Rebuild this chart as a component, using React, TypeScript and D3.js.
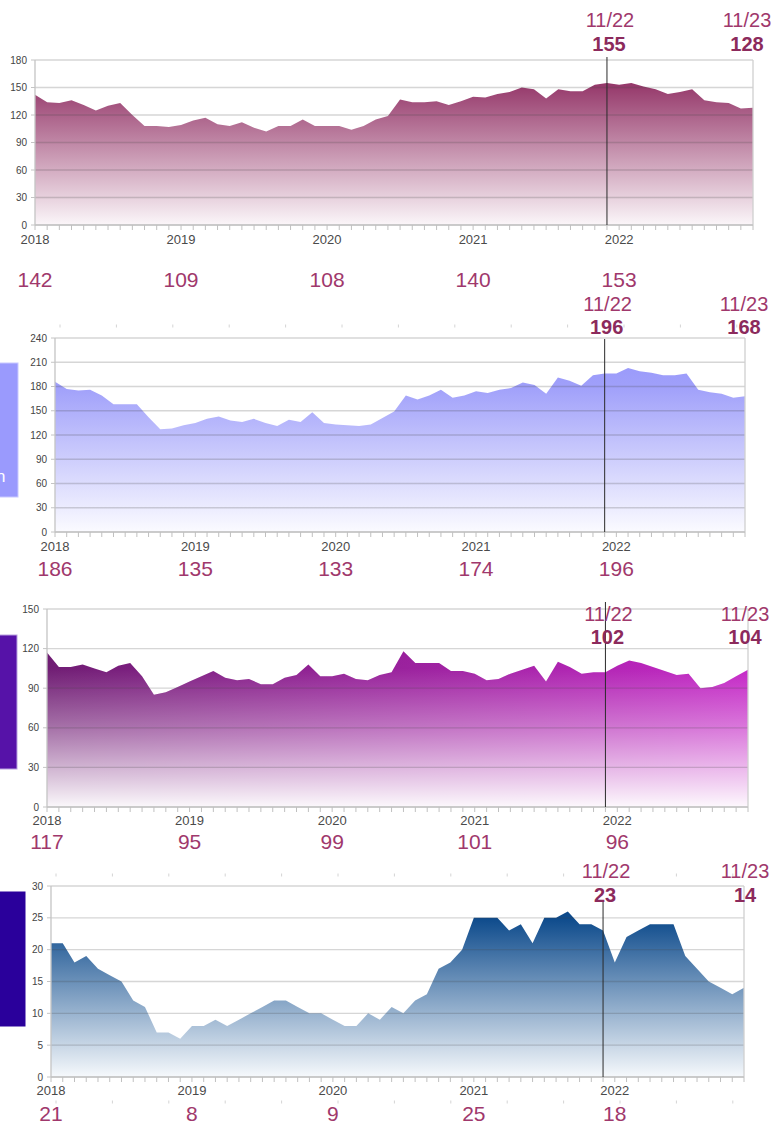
import React from 'react';
import * as d3 from 'd3';

// ---- categories ----
const MONTHS: Date[] = d3.timeMonth.range(new Date(2018, 11, 1), new Date(2023, 11, 1)); // 60 months
const YEAR_LABELS = ['2018', '2019', '2020', '2021', '2022'];
const YEAR_TICK_INDEX = [0, 12, 24, 36, 48];
const MARKER_LABELS = ['11/22', '11/23'];
const MARKER_INDEX = [47, 59];

// ---- series values ----
const seriesA = [142,134,133,136,131,125,130,133,120,108,108,107,109,114,117,110,108,112,106,102,108,108,115,108,108,108,104,108,115,119,137,134,134,135,131,135,140,139,143,145,150,148,138,148,146,146,153,155,153,155,151,148,143,145,148,136,134,133,127,128];
const seriesB = [186,177,175,176,169,158,158,158,142,127,128,132,135,140,143,138,136,140,135,131,139,136,148,135,133,132,131,133,141,149,169,164,169,176,166,169,174,172,176,178,185,182,171,191,187,181,194,196,196,203,199,197,194,194,196,176,173,171,166,168];
const seriesC = [117,106,106,108,105,102,107,109,99,85,87,91,95,99,103,98,96,97,93,93,98,100,108,99,99,101,97,96,100,102,118,109,109,109,103,103,101,96,97,101,104,107,95,110,106,101,102,102,107,111,109,106,103,100,101,90,91,94,99,104];
const seriesD = [21,21,18,19,17,16,15,12,11,7,7,6,8,8,9,8,9,10,11,12,12,11,10,10,9,8,8,10,9,11,10,12,13,17,18,20,25,25,25,23,24,21,25,25,26,24,24,23,18,22,23,24,24,24,19,17,15,14,13,14];

// ---- yearly values shown under each chart ----
const annualA = [142, 109, 108, 140, 153];
const annualB = [186, 135, 133, 174, 196];
const annualC = [117, 95, 99, 101, 96];
const annualD = [21, 8, 9, 25, 18];

type Panel = {
  id: string;
  series: number[];
  annual: number[];
  yMax: number;
  yStep: number;
  left: number; right: number; top: number; bottom: number;
  lineTop: number;
  lab1Y: number; lab2Y: number; yearY: number; annualY: number;
  endLabelX: number;
  box?: { x: number; y: number; w: number; h: number; color: string; border: string; text?: string };
  dots?: number[];
  kind: 'a' | 'b' | 'c' | 'd';
};

const panels: Panel[] = [
  { id: 'a', series: seriesA, annual: annualA, yMax: 180, yStep: 30, left: 35, right: 753, top: 60, bottom: 225, lineTop: 57, lab1Y: 27, lab2Y: 51, yearY: 244, annualY: 287, endLabelX: 747, kind: 'a' },
  { id: 'b', series: seriesB, annual: annualB, yMax: 240, yStep: 30, left: 55, right: 745, top: 338, bottom: 532, lineTop: 339, lab1Y: 311, lab2Y: 334, yearY: 551, annualY: 576, endLabelX: 744, kind: 'b',
    box: { x: -2, y: 363, w: 20, h: 134, color: '#9a9afd', border: '#c8c8ff', text: 'n' }, dots: [326] },
  { id: 'c', series: seriesC, annual: annualC, yMax: 150, yStep: 30, left: 47, right: 748, top: 609, bottom: 807, lineTop: 602, lab1Y: 621, lab2Y: 644, yearY: 825, annualY: 849, endLabelX: 745, kind: 'c',
    box: { x: -2, y: 635, w: 19, h: 134, color: '#5612a8', border: '#b9a2e0' } },
  { id: 'd', series: seriesD, annual: annualD, yMax: 30, yStep: 5, left: 51, right: 744, top: 886, bottom: 1077, lineTop: 902, lab1Y: 878, lab2Y: 902, yearY: 1095, annualY: 1121, endLabelX: 745, kind: 'd',
    box: { x: -2, y: 892, w: 27, h: 134, color: '#2a009b', border: '#2a009b' }, dots: [875, 1102] },
];

const LABEL = '#a0386c';
const LABEL_BOLD = '#8c2a5c';
const FONT = '"Liberation Sans", Arial, sans-serif';

function ChartPanel({ p }: { p: Panel }) {
  const x = d3.scaleLinear().domain([0, MONTHS.length - 1]).range([p.left, p.right]);
  const y = d3.scaleLinear().domain([0, p.yMax]).range([p.bottom, p.top]);
  const area = d3.area<number>().x((_, i) => x(i)).y0(y(0)).y1((d) => y(d));
  const yTicks = d3.range(0, p.yMax + 0.001, p.yStep);
  const gid = `grad-${p.id}`;

  let defs: React.ReactNode = null;
  let fillEl: React.ReactNode = null;
  const path = area(p.series) || '';
  if (p.kind === 'a') {
    defs = (
      <linearGradient id={gid} gradientUnits="userSpaceOnUse" x1={0} x2={0} y1={p.top} y2={p.bottom}>
        <stop offset="0" stopColor="#841852" />
        <stop offset="1" stopColor="#fbf6f9" />
      </linearGradient>
    );
    fillEl = <path d={path} fill={`url(#${gid})`} />;
  } else if (p.kind === 'b') {
    defs = (
      <linearGradient id={gid} gradientUnits="userSpaceOnUse" x1={0} x2={0} y1={p.top} y2={p.bottom}>
        <stop offset="0" stopColor="#9292fb" />
        <stop offset="0.25" stopColor="#a0a0fa" />
        <stop offset="1" stopColor="#fbfbff" />
      </linearGradient>
    );
    fillEl = <path d={path} fill={`url(#${gid})`} />;
  } else if (p.kind === 'c') {
    defs = (
      <>
        <linearGradient id={gid} gradientUnits="userSpaceOnUse" x1={p.left} x2={p.right} y1={0} y2={0}>
          <stop offset="0" stopColor="#6a146e" />
          <stop offset="1" stopColor="#c21ec4" />
        </linearGradient>
        <linearGradient id={`${gid}-w`} gradientUnits="userSpaceOnUse" x1={0} x2={0} y1={p.top} y2={p.bottom}>
          <stop offset="0" stopColor="#ffffff" stopOpacity={0} />
          <stop offset="0.3" stopColor="#ffffff" stopOpacity={0.04} />
          <stop offset="0.6" stopColor="#ffffff" stopOpacity={0.4} />
          <stop offset="0.85" stopColor="#ffffff" stopOpacity={0.75} />
          <stop offset="1" stopColor="#ffffff" stopOpacity={0.97} />
        </linearGradient>
      </>
    );
    fillEl = (
      <>
        <path d={path} fill={`url(#${gid})`} />
        <path d={path} fill={`url(#${gid}-w)`} />
      </>
    );
  } else {
    defs = (
      <linearGradient id={gid} gradientUnits="userSpaceOnUse" x1={0} x2={0} y1={p.top} y2={p.bottom}>
        <stop offset="0" stopColor="#06407f" />
        <stop offset="0.17" stopColor="#0e4b8c" />
        <stop offset="1" stopColor="#f6f9fc" />
      </linearGradient>
    );
    fillEl = <path d={path} fill={`url(#${gid})`} />;
  }

  const lineX = x(MARKER_INDEX[0]);
  const dotXs = d3.range(p.left + 5, p.right, 56.4);

  return (
    <g>
      <defs>{defs}</defs>
      {p.box && (
        <g>
          <rect x={p.box.x} y={p.box.y} width={p.box.w} height={p.box.h} fill={p.box.color} stroke={p.box.border} strokeWidth={1} />
          {p.box.text && (
            <text x={-4} y={p.box.y + p.box.h - 15} fill="#fff" fontSize={17} fontFamily={FONT}>{p.box.text}</text>
          )}
        </g>
      )}
      {p.dots && p.dots.map((dy) => (
        <g key={dy}>
          {dotXs.map((dx) => (
            <line key={dx} x1={dx} x2={dx} y1={dy - 1.5} y2={dy + 1.5} stroke="#d4d4d4" strokeWidth={1} />
          ))}
        </g>
      ))}
      {fillEl}
      {yTicks.map((t) => (
        <line key={t} x1={p.left} x2={p.right} y1={y(t)} y2={y(t)} stroke="rgba(70,70,70,0.22)" strokeWidth={1.3} />
      ))}
      <line x1={p.right} x2={p.right} y1={p.top} y2={p.bottom} stroke="#cfcfcf" strokeWidth={1.3} />
      <line x1={p.left} x2={p.left} y1={p.top} y2={p.bottom} stroke="#c4c4c4" strokeWidth={1.3} />
      <line x1={p.left} x2={p.right} y1={p.bottom} y2={p.bottom} stroke="#c4c4c4" strokeWidth={1.3} />
      {yTicks.map((t) => (
        <g key={`yl${t}`}>
          <line x1={p.left - 4} x2={p.left} y1={y(t)} y2={y(t)} stroke="#c4c4c4" />
          <text x={p.left - 8} y={y(t)} dy="0.35em" textAnchor="end" fontSize={10} fill="#444" fontFamily={FONT}>{t}</text>
        </g>
      ))}
      {MONTHS.map((m, i) => (
        <line key={+m} x1={x(i)} x2={x(i)} y1={p.bottom} y2={p.bottom + 5} stroke="#c0c0c0" strokeWidth={1} />
      ))}
      {YEAR_TICK_INDEX.map((idx, k) => (
        <text key={idx} x={x(idx)} y={p.yearY} textAnchor="middle" fontSize={13} fill="#4a4a4a" fontFamily={FONT}>{YEAR_LABELS[k]}</text>
      ))}
      {YEAR_TICK_INDEX.map((idx, k) => (
        <text key={`a${idx}`} x={x(idx)} y={p.annualY} textAnchor="middle" fontSize={21} fill={LABEL} fontFamily={FONT}>{p.annual[k]}</text>
      ))}
      <line x1={lineX} x2={lineX} y1={p.lineTop} y2={p.bottom} stroke="#2b2b2b" strokeWidth={1} />
      <text x={lineX + 3} y={p.lab1Y} textAnchor="middle" fontSize={20} fill={LABEL} fontFamily={FONT}>{MARKER_LABELS[0]}</text>
      <text x={lineX + 2} y={p.lab2Y} textAnchor="middle" fontSize={20} fontWeight="bold" fill={LABEL_BOLD} fontFamily={FONT}>{p.series[MARKER_INDEX[0]]}</text>
      <text x={p.endLabelX} y={p.lab1Y} textAnchor="middle" fontSize={20} fill={LABEL} fontFamily={FONT}>{MARKER_LABELS[1]}</text>
      <text x={p.endLabelX} y={p.lab2Y} textAnchor="middle" fontSize={20} fontWeight="bold" fill={LABEL_BOLD} fontFamily={FONT}>{p.series[MARKER_INDEX[1]]}</text>
    </g>
  );
}

export default function App() {
  return (
    <svg
      width={771}
      height={1124}
      style={{ position: 'absolute', left: 0, top: 0, background: '#fff', overflow: 'hidden' }}
    >
      <rect x={0} y={0} width={771} height={1124} fill="#fff" />
      {panels.map((p) => (
        <ChartPanel key={p.id} p={p} />
      ))}
    </svg>
  );
}
